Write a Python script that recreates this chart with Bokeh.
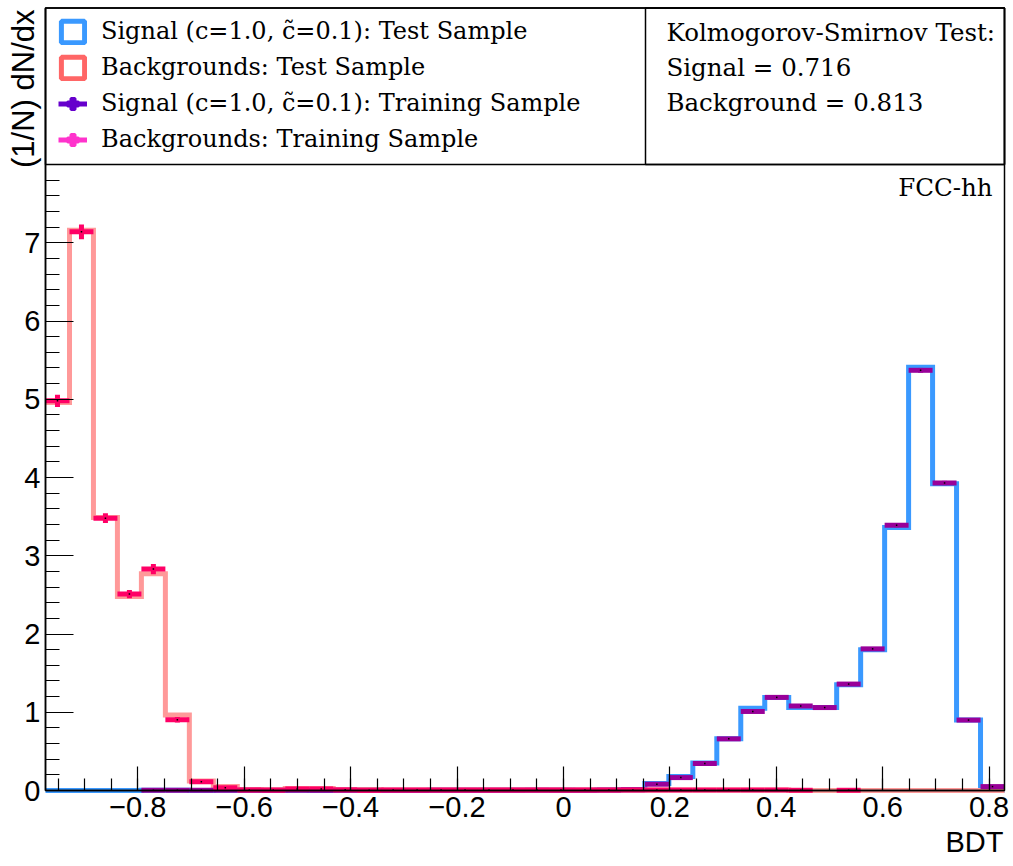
import math
import numpy as np
from bokeh.plotting import figure
from bokeh.models import (FixedTicker, CustomJSTickFormatter, Label, Legend, LegendItem,
                          BoxAnnotation)
from bokeh.embed import file_html
from bokeh.resources import INLINE

# ------------------------------------------------------------------ data
bdt_low = -0.9735
bdt_high = 0.8290
n_bins = 40
y_low = 0.0
y_high = 10.0
y_hist_top = 8.0

sig_test = [0.0, 0.0, 0.0, 0.0, 0.002, 0.002, 0.001, 0.002, 0.003, 0.0,
            0.002, 0.0, 0.002, 0.003, 0.0, 0.0, 0.002, 0.003, 0.002, 0.003,
            0.004, 0.002, 0.0, 0.005, 0.01, 0.09, 0.18, 0.35, 0.66, 1.05,
            1.19, 1.06, 1.06, 1.35, 1.80, 3.36, 5.41, 3.92, 0.90, 0.0]
bkg_test = [4.96, 7.16, 3.49, 2.48, 2.77, 0.964, 0.121, 0.05, 0.012, 0.01,
            0.025, 0.025, 0.01, 0.012, 0.006, 0.006, 0.006, 0.006, 0.006, 0.006,
            0.006, 0.006, 0.006, 0.006, 0.006, 0.006, 0.006, 0.006, 0.006, 0.006,
            0.006, 0.0, 0.0, 0.0, 0.0, 0.0, 0.0, 0.0, 0.0, 0.0]
sig_train = [0.0, 0.0, 0.0, 0.0, 0.003, 0.003, 0.002, 0.003, 0.003, 0.002,
             0.003, 0.002, 0.003, 0.003, 0.002, 0.002, 0.003, 0.003, 0.003, 0.003,
             0.004, 0.003, 0.003, 0.005, 0.01, 0.08, 0.165, 0.345, 0.66, 1.01,
             1.19, 1.08, 1.06, 1.36, 1.81, 3.39, 5.37, 3.93, 0.90, 0.05]
sig_train_err = [0.0, 0.0, 0.0, 0.0, 0.002, 0.002, 0.002, 0.002, 0.002, 0.002,
                 0.002, 0.002, 0.002, 0.002, 0.002, 0.002, 0.002, 0.002, 0.002, 0.002,
                 0.002, 0.002, 0.002, 0.003, 0.004, 0.008, 0.01, 0.012, 0.015, 0.018,
                 0.02, 0.019, 0.019, 0.021, 0.023, 0.026, 0.03, 0.027, 0.016, 0.005]
bkg_train = [4.98, 7.14, 3.48, 2.51, 2.83, 0.904, 0.111, 0.034, 0.007, 0.005,
             0.02, 0.02, 0.008, 0.002, 0.006, 0.006, 0.006, 0.006, 0.006, 0.006,
             0.006, 0.006, 0.006, 0.006, 0.006, 0.006, 0.006, 0.006, 0.006, 0.006,
             0.006, 0.003, 0.0, 0.003, 0.0, 0.0, 0.0, 0.0, 0.0, 0.0]
bkg_train_err = [0.079, 0.094, 0.062, 0.053, 0.066, 0.035, 0.012, 0.007, 0.003, 0.003,
                 0.005, 0.005, 0.003, 0.002, 0.003, 0.003, 0.003, 0.003, 0.003, 0.003,
                 0.003, 0.003, 0.003, 0.003, 0.003, 0.003, 0.003, 0.003, 0.003, 0.003,
                 0.003, 0.002, 0.0, 0.002, 0.0, 0.0, 0.0, 0.0, 0.0, 0.0]

x_major = [-0.8, -0.6, -0.4, -0.2, 0.0, 0.2, 0.4, 0.6, 0.8]
x_minor = [round(-0.95 + 0.05 * k, 2) for k in range(36)]
y_major = [0, 1, 2, 3, 4, 5, 6, 7]
y_minor = [round(0.2 * k, 1) for k in range(41)]

legend_labels = ["Signal (c=1.0, c\u0303=0.1): Test Sample",
                 "Backgrounds: Test Sample",
                 "Signal (c=1.0, c\u0303=0.1): Training Sample",
                 "Backgrounds: Training Sample"]
ks_lines = ["Kolmogorov-Smirnov Test:", "Signal = 0.716", "Background = 0.813"]
x_title = "BDT"
y_title = "(1/N) dN/dx"
tag = "FCC-hh"

# ------------------------------------------------------------------ layout / styles
W, H = 1012, 864
FRAME_L, FRAME_R, FRAME_T, FRAME_B = 45.0, 1004.0, 7.5, 790.0
DIVIDER_PX = 645.0

c_sig_test = "#3a99ff"
c_bkg_test = "#ff9999"
c_sig_train = "#990099"
c_bkg_train = "#ff0066"
c_leg_sig_test = "#3a99ff"
c_leg_bkg_test = "#ff6666"
c_leg_sig_train = "#6600cc"
c_leg_bkg_train = "#ff33cc"

px_x = (FRAME_R - FRAME_L) / (bdt_high - bdt_low)
px_y = (FRAME_B - FRAME_T) / (y_high - y_low)
x_start = bdt_low - FRAME_L / px_x
x_end = bdt_high + (W - FRAME_R) / px_x
y_start = y_low - (H - FRAME_B) / px_y
y_end = y_high + FRAME_T / px_y
x_div = bdt_low + (DIVIDER_PX - FRAME_L) / px_x

edges = np.linspace(bdt_low, bdt_high, n_bins + 1)
centers = 0.5 * (edges[:-1] + edges[1:])
bw = edges[1] - edges[0]


def step_xy(vals):
    xs, ys = [], []
    for i, v in enumerate(vals):
        xs += [edges[i], edges[i + 1]]
        ys += [v, v]
    return xs, ys


p = figure(width=W, height=H, x_range=(x_start, x_end), y_range=(y_start, y_end),
           output_backend="svg", toolbar_location=None,
           min_border_left=0, min_border_right=0, min_border_top=0, min_border_bottom=0)
p.xgrid.visible = False
p.ygrid.visible = False
p.background_fill_color = "white"
p.border_fill_color = "white"
p.outline_line_color = None

MINUS = "\u2212"
fmt_code = ("var a = Math.abs(tick); var s = a < 1e-9 ? '0' : (Math.round(a*10)/10).toString();"
            " return (tick < -1e-9 ? '" + MINUS + "' : '') + s;")
p.xaxis.fixed_location = y_low
p.xaxis.bounds = (bdt_low, bdt_high)
p.yaxis.fixed_location = bdt_low
p.yaxis.bounds = (y_low, y_high)
p.xaxis.ticker = FixedTicker(ticks=x_major, minor_ticks=x_minor)
p.yaxis.ticker = FixedTicker(ticks=y_major, minor_ticks=y_minor)
p.xaxis.formatter = CustomJSTickFormatter(code=fmt_code)
p.yaxis.formatter = CustomJSTickFormatter(code=fmt_code)
p.xaxis.major_tick_in = 24
p.xaxis.minor_tick_in = 12
p.yaxis.major_tick_in = 28
p.yaxis.minor_tick_in = 14
p.axis.major_tick_out = 0
p.axis.minor_tick_out = 0
p.axis.major_tick_line_width = 1.2
p.axis.minor_tick_line_width = 1.2
p.axis.major_tick_line_color = "black"
p.axis.minor_tick_line_color = "black"
p.axis.axis_line_width = 1.5
p.axis.axis_line_color = "black"
p.axis.major_label_text_font = "Liberation Sans"
p.axis.major_label_text_font_size = "29px"
p.axis.major_label_text_color = "black"
p.xaxis.major_label_standoff = 6
p.yaxis.major_label_standoff = 5

# test-sample histograms (outlines)
xs, ys = step_xy(sig_test)
p.line(xs, ys, line_color=c_sig_test, line_width=5, line_join="miter")
xs, ys = step_xy(bkg_test)
p.line(xs, ys, line_color=c_bkg_test, line_width=5, line_join="miter")


def draw_train(vals, errs, color):
    idx = [i for i, v in enumerate(vals) if v > 0]
    cx = [centers[i] for i in idx]
    cy = [vals[i] for i in idx]
    ce = [2 * errs[i] for i in idx]
    p.rect(x=cx, y=cy, width=bw, height=5, height_units="screen",
           fill_color=color, line_color=None)
    p.rect(x=cx, y=cy, width=5, width_units="screen", height=ce,
           fill_color=color, line_color=None)
    p.scatter(x=cx, y=cy, size=1.5, marker="square", fill_color="black", line_color=None)


draw_train(sig_train, sig_train_err, c_sig_train)
draw_train(bkg_train, bkg_train_err, c_bkg_train)

# frame box, legend panel and divider
p.add_layout(BoxAnnotation(left=bdt_low, right=bdt_high, bottom=y_low, top=y_high,
                           fill_alpha=0, line_color="black", line_alpha=1.0, line_width=1.5))
p.add_layout(BoxAnnotation(left=bdt_low, right=bdt_high, bottom=y_hist_top, top=y_high,
                           fill_alpha=0, line_color="black", line_alpha=1.0, line_width=1.5))
p.add_layout(BoxAnnotation(left=x_div, right=bdt_high, bottom=y_hist_top, top=y_high,
                           fill_alpha=0, line_color="black", line_alpha=1.0, line_width=1.5))

# legend (dummy renderers give the legend glyphs)
nan = float("nan")
r1 = p.quad(left=[nan], right=[nan], top=[nan], bottom=[nan], fill_alpha=0,
            line_color=c_leg_sig_test, line_width=5)
r2 = p.quad(left=[nan], right=[nan], top=[nan], bottom=[nan], fill_alpha=0,
            line_color=c_leg_bkg_test, line_width=5)
r3a = p.line(x=[nan], y=[nan], line_color=c_leg_sig_train, line_width=5)
r3b = p.scatter(x=[nan], y=[nan], marker="plus", size=10, fill_color=c_leg_sig_train,
                line_color=c_leg_sig_train, line_width=3)
r4a = p.line(x=[nan], y=[nan], line_color=c_leg_bkg_train, line_width=5)
r4b = p.scatter(x=[nan], y=[nan], marker="plus", size=10, fill_color=c_leg_bkg_train,
                line_color=c_leg_bkg_train, line_width=3)
legend = Legend(items=[LegendItem(label=legend_labels[0], renderers=[r1]),
                       LegendItem(label=legend_labels[1], renderers=[r2]),
                       LegendItem(label=legend_labels[2], renderers=[r3a, r3b]),
                       LegendItem(label=legend_labels[3], renderers=[r4a, r4b])],
                location=(58, H - 153), glyph_width=29, glyph_height=27, label_height=27,
                label_standoff=14, spacing=8, padding=0, margin=0,
                border_line_alpha=0, background_fill_alpha=0,
                label_text_font="DejaVu Serif", label_text_font_size="24px",
                label_text_color="black")
p.add_layout(legend)

ks_centers = [31.5, 66.5, 101.5]
for txt, c in zip(ks_lines, ks_centers):
    p.add_layout(Label(x=666, y=H - c, x_units="screen", y_units="screen", text=txt,
                       text_font="DejaVu Serif", text_font_size="24.5px", text_color="black",
                       text_align="left", text_baseline="middle"))

p.add_layout(Label(x=992, y=H - 186.5, x_units="screen", y_units="screen", text=tag,
                   text_font="DejaVu Serif", text_font_size="24.5px", text_color="black",
                   text_align="right", text_baseline="middle"))

p.add_layout(Label(x=1003, y=H - 841, x_units="screen", y_units="screen", text=x_title,
                   text_font="Liberation Sans", text_font_size="29px", text_color="black",
                   text_align="right", text_baseline="middle"))
p.add_layout(Label(x=23, y=H - 9, x_units="screen", y_units="screen", text=y_title,
                   angle=math.pi / 2, text_font="Liberation Sans", text_font_size="31px",
                   text_color="black", text_align="right", text_baseline="middle"))

open("out.html", "w").write(file_html(p, INLINE))
